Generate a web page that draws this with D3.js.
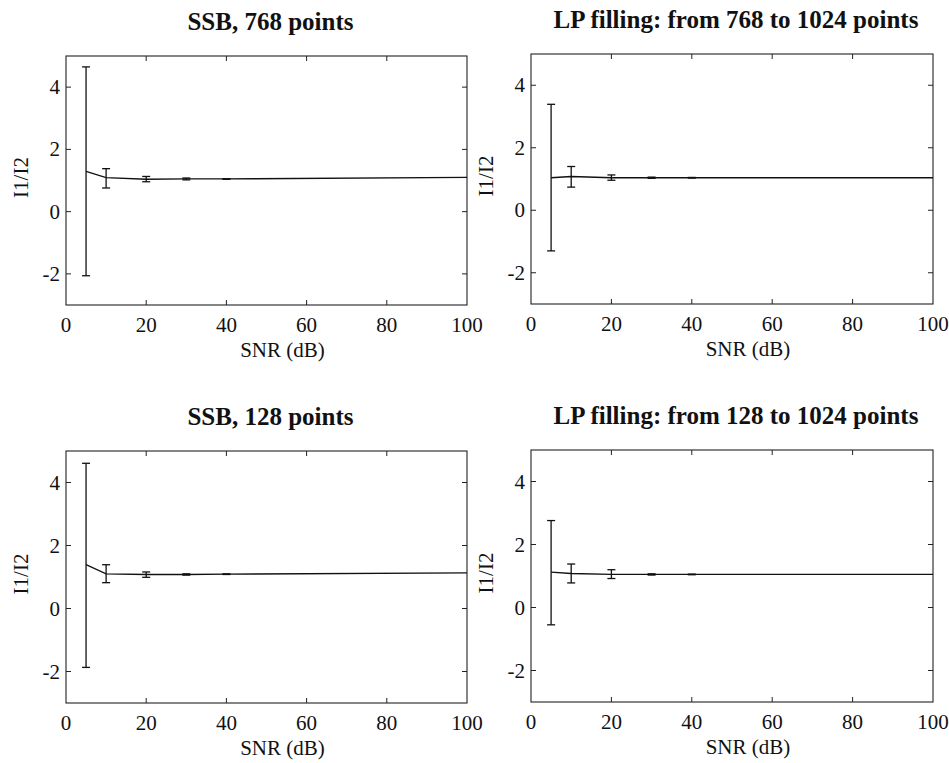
<!DOCTYPE html>
<html>
<head>
<meta charset="utf-8">
<script src="https://cdn.jsdelivr.net/npm/d3@7"></script>
<style>
  html, body { margin: 0; padding: 0; background: #fff; }
  svg { display: block; }
</style>
</head>
<body>
<svg id="chart" width="949" height="763"></svg>
<script>
// SNR levels (dB) at which the intensity ratio was estimated
const snr = [5, 10, 20, 30, 40, 100];

// Panel titles
const titles = [
  "SSB, 768 points",
  "LP filling: from 768 to 1024 points",
  "SSB, 128 points",
  "LP filling: from 128 to 1024 points"
];

// Mean I1/I2 ratio for each panel
const meanSSB768 = [1.29, 1.09, 1.04, 1.05, 1.05, 1.10];
const meanLP768  = [1.04, 1.08, 1.04, 1.04, 1.04, 1.04];
const meanSSB128 = [1.39, 1.10, 1.08, 1.08, 1.09, 1.13];
const meanLP128  = [1.12, 1.08, 1.05, 1.05, 1.05, 1.05];

// Error bar limits (lower / upper); null where no bar is drawn
const lowSSB768  = [-2.06, 0.76, 0.96, 1.02, 1.04, null];
const highSSB768 = [ 4.65, 1.38, 1.13, 1.08, 1.06, null];
const lowLP768   = [-1.30, 0.74, 0.96, 1.02, 1.03, null];
const highLP768  = [ 3.39, 1.40, 1.13, 1.06, 1.05, null];
const lowSSB128  = [-1.87, 0.82, 0.99, 1.06, 1.08, null];
const highSSB128 = [ 4.61, 1.39, 1.16, 1.10, 1.10, null];
const lowLP128   = [-0.55, 0.78, 0.92, 1.03, 1.04, null];
const highLP128  = [ 2.76, 1.38, 1.20, 1.07, 1.06, null];

const xTicks = [0, 20, 40, 60, 80, 100];
const yTicks = [-2, 0, 2, 4];
const xLabel = "SNR (dB)";
const yLabel = "I1/I2";

const series = [
  { mean: meanSSB768, low: lowSSB768, high: highSSB768 },
  { mean: meanLP768,  low: lowLP768,  high: highLP768 },
  { mean: meanSSB128, low: lowSSB128, high: highSSB128 },
  { mean: meanLP128,  low: lowLP128,  high: highLP128 }
];

// Plot-box frames for the 2x2 grid
const boxes = [
  { x0: 66,  x1: 467, y0: 56,  y1: 305 },
  { x0: 531, x1: 933, y0: 54,  y1: 304 },
  { x0: 66,  x1: 467, y0: 451, y1: 703 },
  { x0: 531, x1: 933, y0: 450, y1: 702 }
];

const serif = "'Liberation Serif', 'Times New Roman', Times, 'DejaVu Serif', serif";
const svg = d3.select("#chart").attr("font-family", serif);
const ink = "#111";

series.forEach((s, i) => {
  const b = boxes[i];
  const x = d3.scaleLinear().domain([0, 100]).range([b.x0, b.x1]);
  const y = d3.scaleLinear().domain([-3, 5]).range([b.y1, b.y0]);
  const g = svg.append("g");

  // frame
  g.append("rect")
    .attr("x", b.x0).attr("y", b.y0)
    .attr("width", b.x1 - b.x0).attr("height", b.y1 - b.y0)
    .attr("fill", "none").attr("stroke", "#222").attr("stroke-width", 1.1);

  // inward ticks on all four sides
  const tl = 5;
  const inner = xTicks.filter(t => t > 0 && t < 100);
  inner.forEach(t => {
    g.append("line").attr("x1", x(t)).attr("x2", x(t)).attr("y1", b.y1).attr("y2", b.y1 - tl)
      .attr("stroke", "#222");
    g.append("line").attr("x1", x(t)).attr("x2", x(t)).attr("y1", b.y0).attr("y2", b.y0 + tl)
      .attr("stroke", "#222");
  });
  yTicks.forEach(t => {
    g.append("line").attr("x1", b.x0).attr("x2", b.x0 + tl).attr("y1", y(t)).attr("y2", y(t))
      .attr("stroke", "#222");
    g.append("line").attr("x1", b.x1).attr("x2", b.x1 - tl).attr("y1", y(t)).attr("y2", y(t))
      .attr("stroke", "#222");
  });

  // tick labels
  g.selectAll(".xt").data(xTicks).enter().append("text")
    .attr("font-family", serif)
    .attr("x", d => x(d)).attr("y", b.y1 + 27)
    .attr("text-anchor", "middle").attr("font-size", 21).attr("fill", ink)
    .text(d => d);
  g.selectAll(".yt").data(yTicks).enter().append("text")
    .attr("font-family", serif)
    .attr("x", b.x0 - 6).attr("y", d => y(d) + 7)
    .attr("text-anchor", "end").attr("font-size", 21).attr("fill", ink)
    .text(d => d);

  // axis labels
  g.append("text")
    .attr("font-family", serif)
    .attr("x", (b.x0 + b.x1) / 2 + 16).attr("y", b.y1 + 52)
    .attr("text-anchor", "middle").attr("font-size", 21).attr("fill", ink)
    .text(xLabel);
  g.append("text")
    .attr("font-family", serif)
    .attr("transform", `translate(${b.x0 - 38},${(b.y0 + b.y1) / 2 - 3}) rotate(-90)`)
    .attr("text-anchor", "middle").attr("font-size", 21).attr("fill", ink)
    .text(yLabel);

  // title
  g.append("text")
    .attr("font-family", serif)
    .attr("x", (b.x0 + b.x1) / 2 + 4).attr("y", b.y0 - 26)
    .attr("text-anchor", "middle").attr("font-size", 25).attr("font-weight", "bold").attr("fill", ink)
    .text(titles[i]);

  // mean curve
  const pts = snr.map((v, k) => [v, s.mean[k]]);
  g.append("path")
    .attr("d", d3.line().x(d => x(d[0])).y(d => y(d[1]))(pts))
    .attr("fill", "none").attr("stroke", ink).attr("stroke-width", 1.3);

  // error bars
  const cap = 4;
  snr.forEach((v, k) => {
    if (s.low[k] === null) return;
    const cx = x(v), ylo = y(s.low[k]), yhi = y(s.high[k]);
    g.append("line").attr("x1", cx).attr("x2", cx).attr("y1", ylo).attr("y2", yhi)
      .attr("stroke", ink).attr("stroke-width", 1.3);
    [ylo, yhi].forEach(yy => {
      g.append("line").attr("x1", cx - cap).attr("x2", cx + cap).attr("y1", yy).attr("y2", yy)
        .attr("stroke", ink).attr("stroke-width", 1.3);
    });
  });
});
</script>
</body>
</html>
